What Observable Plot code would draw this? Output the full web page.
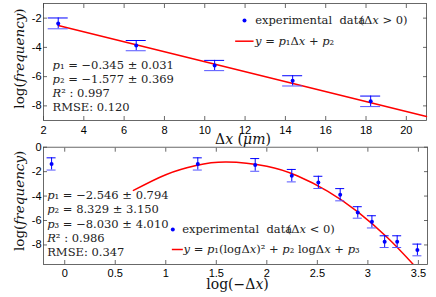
<!DOCTYPE html>
<html><head><meta charset="utf-8">
<script src="https://cdn.jsdelivr.net/npm/d3@7"></script>
<script src="https://cdn.jsdelivr.net/npm/@observablehq/plot@0.6"></script>
<style>
body{margin:0;background:#fff;}
#chart{width:436px;height:297px;overflow:hidden;background:#fff}
#chart svg{display:block;background:#fff}
#chart svg text{white-space:pre}
</style></head><body><div id="chart"></div>
<script>
// ---- top panel: Δx > 0 ----
const posX = [2.73, 6.6, 10.49, 14.36, 18.23];
const posY = [-2.36, -3.88, -5.24, -6.29, -7.69];
const posErr = [0.37, 0.35, 0.35, 0.35, 0.36];
const posFitX = [2.73, 21];
const posFitY = [-2.5, -8.72];
const posXTicks = [2, 4, 6, 8, 10, 12, 14, 16, 18, 20];
const posYTicks = [-2, -4, -6, -8];
const posParams = ["{p}₁ = −0.345 ± 0.031", "{p}₂ = −1.577 ± 0.369", "{R}² : 0.997", "RMSE: 0.120"];
const posLegendData = "experimental  data";
const posLegendCond = "(Δ{x} > 0)";
const posLegendFit = "{y} = {p}₁Δ{x} + {p}₂";
const posXLabel = "Δ{x} ({μm})";

// ---- bottom panel: Δx < 0 ----
const negX = [-0.13, 1.317, 1.885, 2.247, 2.51, 2.726, 2.9, 3.04, 3.166, 3.29, 3.49];
const negY = [-1.37, -1.37, -1.45, -2.33, -2.88, -3.89, -5.34, -6.11, -7.73, -7.73, -8.41];
const negErr = [0.5, 0.5, 0.52, 0.51, 0.5, 0.5, 0.47, 0.5, 0.48, 0.48, 0.48];
const negFitX = [0.68, 1.0, 1.3, 1.6, 2.0, 2.3, 2.6, 2.9, 3.2, 3.45];
const negFitY = [-3.54, -2.25, -1.5, -1.22, -1.56, -2.34, -3.59, -5.29, -7.45, -9.6];
const negXTicks = [0, 0.5, 1, 1.5, 2, 2.5, 3, 3.5];
const negYTicks = [0, -2, -4, -6, -8];
const negParams = ["{p}₁ = −2.546 ± 0.794", "{p}₂ = 8.329 ± 3.150", "{p}₃ = −8.030 ± 4.010", "{R}² : 0.986", "RMSE: 0.347"];
const negLegendData = "experimental  data";
const negLegendCond = "(Δ{x} < 0)";
const negLegendFit = "{y} = {p}₁(logΔ{x})² + {p}₂ logΔ{x} + {p}₃";
const negXLabel = "log(−Δ{x})";

const yLabel = "log({frequency})";

const SERIF = "DejaVu Serif";
const SANS = "Liberation Sans, Arial, sans-serif";
const FRAME = "#444";

const hline = {draw(ctx) { ctx.moveTo(-9.2, 0); ctx.lineTo(9.2, 0); }};
const hlineShort = {draw(ctx) { ctx.moveTo(-5.5, 0); ctx.lineTo(5.5, 0); }};

function axes(xt, yt, xPad) {
  const common = {stroke: FRAME, strokeWidth: 0.8, label: null};
  return [
    Plot.axisX({...common, ticks: xt, anchor: "bottom", tickSize: -4, tickPadding: xPad, tickFormat: d => String(d), fontSize: 11, fontFamily: SANS, fill: "#000"}),
    Plot.axisX({...common, ticks: xt, anchor: "top", tickSize: -4, tickFormat: () => ""}),
    Plot.axisY({...common, ticks: yt, anchor: "left", tickSize: -4, tickPadding: 6, tickFormat: d => String(d), fontSize: 11, fontFamily: SANS, fill: "#000"}),
    Plot.axisY({...common, ticks: yt, anchor: "right", tickSize: -4, tickFormat: () => ""}),
    Plot.frame({stroke: FRAME, strokeWidth: 0.8})
  ];
}

function errorMarks(X, Y, E, cap) {
  const idx = d3.range(X.length);
  const stroke = "#0000ff";
  return [
    Plot.ruleX(idx, {x: i => X[i], y1: i => Y[i] - E[i], y2: i => Y[i] + E[i], stroke, strokeWidth: 1}),
    Plot.ruleY(idx, {y: i => Y[i] + E[i], x1: i => X[i], x2: i => X[i], insetLeft: -cap, insetRight: -cap, stroke, strokeWidth: 1}),
    Plot.ruleY(idx, {y: i => Y[i] - E[i], x1: i => X[i], x2: i => X[i], insetLeft: -cap, insetRight: -cap, stroke: "#5555ff", strokeWidth: 1}),
    Plot.dot(idx, {x: i => X[i], y: i => Y[i], r: 2, fill: stroke, stroke: "none"})
  ];
}

function italicize(svg) {
  svg.querySelectorAll("text, tspan").forEach(el => {
    if (el.children.length === 0 && el.textContent.includes("{")) {
      const esc = el.textContent.replace(/&/g, "&amp;").replace(/</g, "&lt;").replace(/>/g, "&gt;");
      el.innerHTML = esc.replace(/\{([^}]*)\}/g, '<tspan font-style="italic">$1</tspan>');
    }
  });
  return svg;
}

const txt = {fontFamily: SERIF, fill: "#222", stroke: "none"};

const topPlot = Plot.plot({
  width: 436, height: 145,
  marginTop: 3, marginBottom: 25, marginLeft: 43, marginRight: 10,
  style: {background: "#fff", overflow: "visible"},
  x: {domain: [2, 21]},
  y: {domain: [-9, -1]},
  marks: [
    ...axes(posXTicks, posYTicks, 9.5),
    Plot.line(d3.range(posFitX.length), {x: i => posFitX[i], y: i => posFitY[i], stroke: "#ff0000", strokeWidth: 1.5}),
    ...errorMarks(posX, posY, posErr, 10),
    Plot.text([posParams.join("\n")], {...txt, frameAnchor: "top-left", dx: 9, dy: 56, textAnchor: "start", lineAnchor: "top", lineHeight: 1.21, fontSize: 11.5}),
    Plot.dot([0], {frameAnchor: "top-left", dx: 201, dy: 17, r: 2, fill: "#0000ff"}),
    Plot.text([posLegendData], {...txt, frameAnchor: "top-left", dx: 211.7, dy: 17, textAnchor: "start", lineAnchor: "middle", fontSize: 11.5}),
    Plot.text([posLegendCond], {...txt, frameAnchor: "top-left", dx: 316, dy: 17, textAnchor: "start", lineAnchor: "middle", fontSize: 11.5}),
    Plot.dot([0], {frameAnchor: "top-left", dx: 200.85, dy: 37.7, symbol: hline, r: 3, stroke: "#ff0000", strokeWidth: 1.5, fill: "none"}),
    Plot.text([posLegendFit], {...txt, frameAnchor: "top-left", dx: 211.5, dy: 37.7, textAnchor: "start", lineAnchor: "middle", fontSize: 11.5}),
    Plot.text([posXLabel], {...txt, fill: "#111", frameAnchor: "bottom", dx: 8, dy: 19, textAnchor: "middle", lineAnchor: "middle", fontSize: 14}),
    Plot.text([yLabel], {...txt, fill: "#111", frameAnchor: "left", dx: -24, dy: -3.5, rotate: -90, textAnchor: "middle", lineAnchor: "middle", fontSize: 13.5})
  ]
});

const bottomPlot = Plot.plot({
  width: 436, height: 152,
  marginTop: 1.7, marginBottom: 33, marginLeft: 43, marginRight: 9,
  style: {background: "#fff", overflow: "visible"},
  x: {domain: [-0.21, 3.59]},
  y: {domain: [-9.6, 0]},
  marks: [
    ...axes(negXTicks, negYTicks, 8.5),
    Plot.line(d3.range(negFitX.length), {x: i => negFitX[i], y: i => negFitY[i], stroke: "#ff0000", strokeWidth: 1.5, curve: "natural", clip: true}),
    ...errorMarks(negX, negY, negErr, 4.5),
    Plot.text([negParams.join("\n")], {...txt, frameAnchor: "top-left", dx: 3.7, dy: 42, textAnchor: "start", lineAnchor: "top", lineHeight: 1.23, fontSize: 11.5}),
    Plot.dot([0], {frameAnchor: "top-left", dx: 129.3, dy: 82.3, r: 2, fill: "#0000ff"}),
    Plot.text([negLegendData], {...txt, frameAnchor: "top-left", dx: 138.7, dy: 82.3, textAnchor: "start", lineAnchor: "middle", fontSize: 11.5}),
    Plot.text([negLegendCond], {...txt, frameAnchor: "top-left", dx: 243.3, dy: 82.3, textAnchor: "start", lineAnchor: "middle", fontSize: 11.5}),
    Plot.dot([0], {frameAnchor: "top-left", dx: 133.85, dy: 102.3, symbol: hlineShort, r: 3, stroke: "#ff0000", strokeWidth: 1.5, fill: "none"}),
    Plot.text([negLegendFit], {...txt, frameAnchor: "top-left", dx: 140, dy: 102.3, textAnchor: "start", lineAnchor: "middle", fontSize: 11.5}),
    Plot.text([negXLabel], {...txt, fill: "#111", frameAnchor: "bottom", dx: 2, dy: 20.5, textAnchor: "middle", lineAnchor: "middle", fontSize: 14}),
    Plot.text([yLabel], {...txt, fill: "#111", frameAnchor: "left", dx: -24, dy: -5, rotate: -90, textAnchor: "middle", lineAnchor: "middle", fontSize: 13.5})
  ]
});

const chart = document.getElementById("chart");
chart.appendChild(italicize(topPlot));
chart.appendChild(italicize(bottomPlot));
</script>
</body></html>
